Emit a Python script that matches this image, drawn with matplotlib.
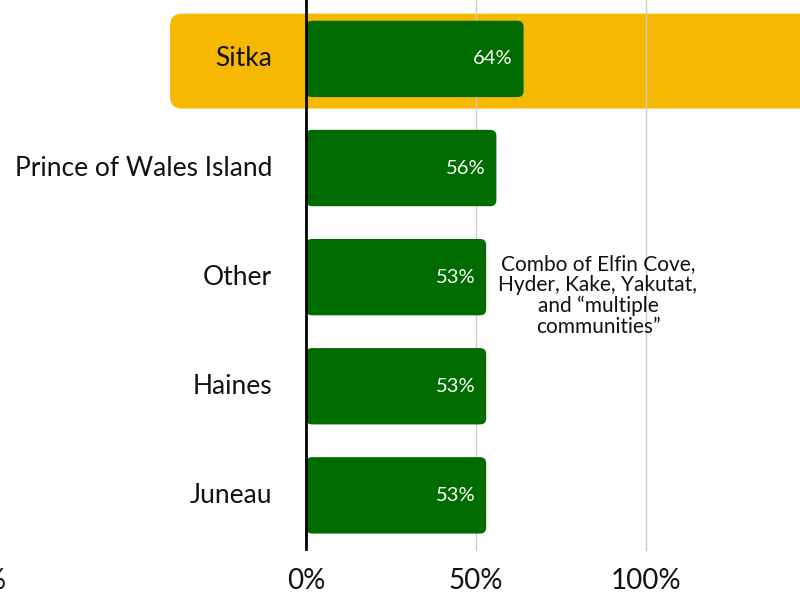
import matplotlib.pyplot as plt
from matplotlib.patches import FancyBboxPatch

plt.rcParams['font.family'] = ['Lato', 'DejaVu Sans']

# data
places = ['Sitka', 'Prince of Wales Island', 'Other', 'Haines', 'Juneau']
shares = [64, 56, 53, 53, 53]
highlight = 'Sitka'
note_for = 'Other'
note = 'Combo of Elfin Cove,\nHyder, Kake, Yakutat,\nand \u201cmultiple\ncommunities\u201d'
xticks = [-100, 0, 50, 100]

green = '#006C00'
yellow = '#F6B800'

fig = plt.figure(figsize=(8, 5.93), dpi=100)
ax = fig.add_axes([0, 42 / 593, 1, 551 / 593])

ax.set_yticks([])
ax.set_xticks([t for t in xticks if t >= 0])
ax.set_xticklabels([f'{t}%' for t in xticks if t >= 0], fontsize=20, color='#111111')
ax.tick_params(axis='x', length=0, pad=12)
for s in ax.spines.values():
    s.set_visible(False)

ax.set_xlim(-90, 145.3)
ax.set_ylim(len(places) - 1 + 0.51, -0.54)

# the -100% label sits mostly off the left edge
for t in xticks:
    if t < -90:
        ax.annotate(f'{t}%', xy=(t, 0), xycoords=('data', 'axes fraction'),
                    xytext=(0, -12), textcoords='offset points', ha='center',
                    va='top', fontsize=20, color='#111111', annotation_clip=False)

# px per data unit, to keep the corners round
x_px = 800 / (145.3 + 90)
y_px = 551 / (len(places) - 1 + 0.51 + 0.54)
aspect = x_px / y_px

# gridlines only on the positive side
for t in xticks:
    if t > 0:
        ax.axvline(t, color='#cccccc', lw=1, zorder=1)

for i, (name, v) in enumerate(zip(places, shares)):
    if name == highlight:
        hh = 0.435
        box = FancyBboxPatch((-40, i + 0.02 - hh), 250, 2 * hh,
                             boxstyle='round,pad=0,rounding_size=3.6',
                             mutation_aspect=aspect, fc=yellow, ec='none', zorder=0)
        ax.add_patch(box)
    h = 0.35
    bar = FancyBboxPatch((0, i - h), v, 2 * h,
                         boxstyle='round,pad=0,rounding_size=1.8',
                         mutation_aspect=aspect, fc=green, ec='none', zorder=2)
    ax.add_patch(bar)
    ax.text(v - 3.2, i, f'{v}%', color='white', fontsize=14.5,
            ha='right', va='center', zorder=3)
    ax.text(-10, i, name, color='#111111', fontsize=19, ha='right', va='center')
    if name == note_for:
        ax.text(598 / x_px - 90, i + 0.165, note, fontsize=15, ha='center',
                va='center', color='#111111', linespacing=1.05)

ax.axvline(0, color='black', lw=2, zorder=4)

fig.savefig('out.png', dpi=100)
